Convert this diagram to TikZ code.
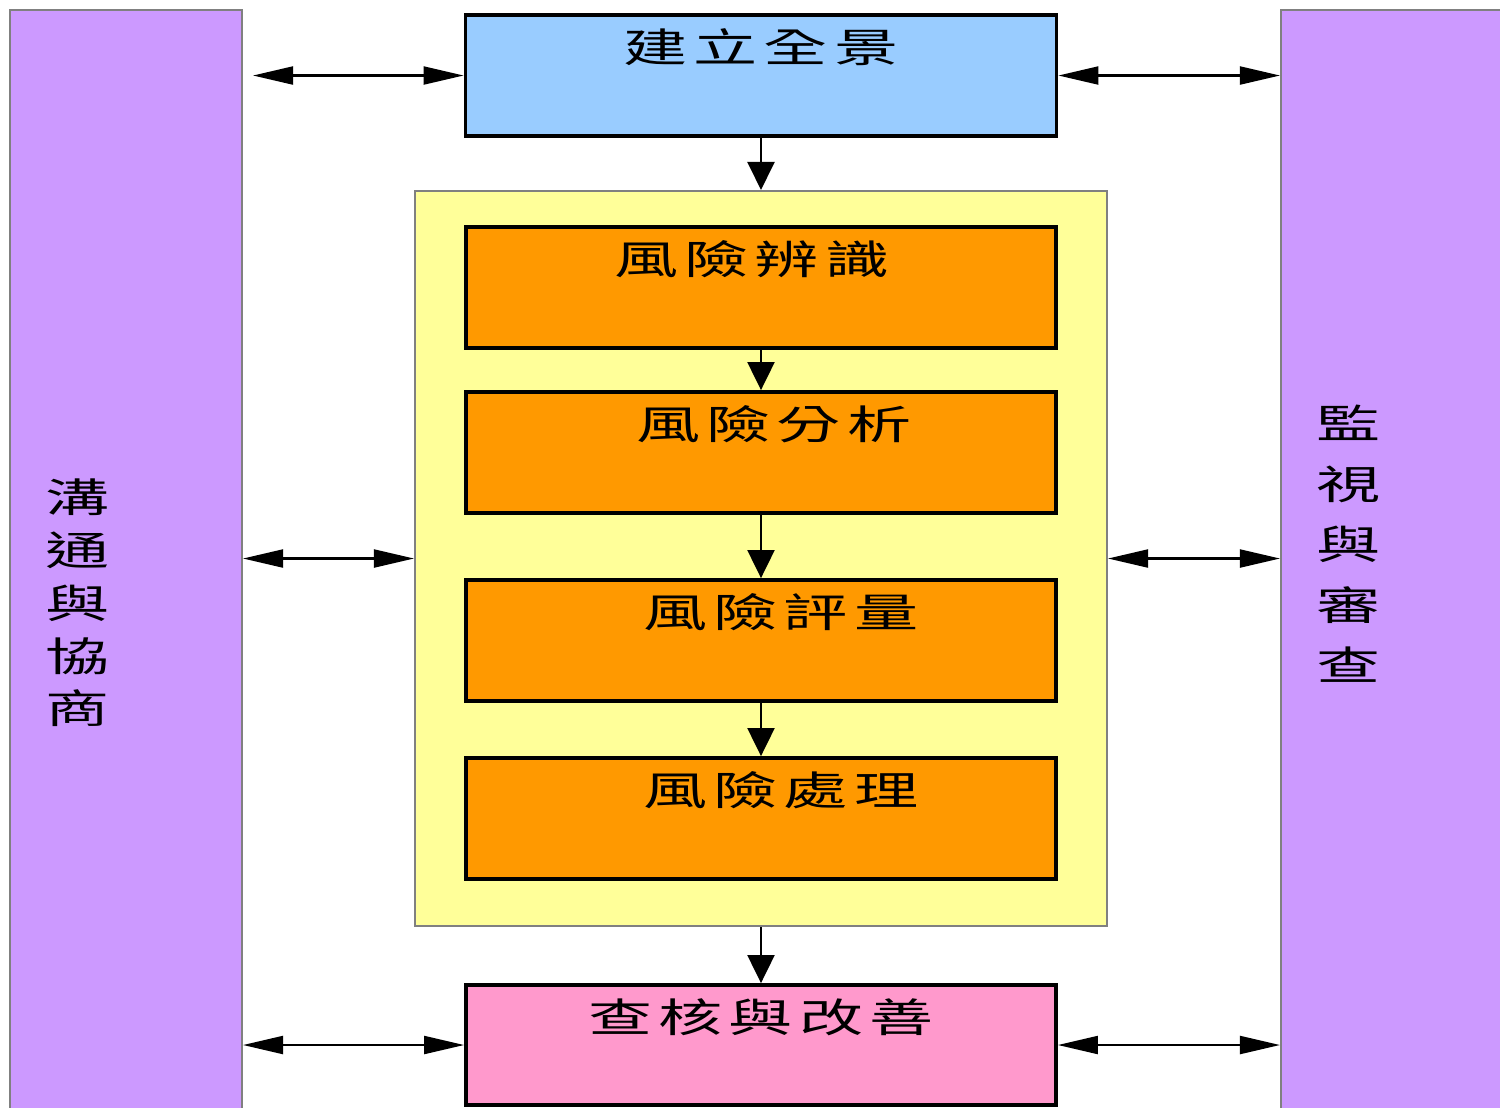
\documentclass[tikz,border=0pt]{standalone}
\usepackage{fontspec}
\usetikzlibrary{arrows.meta,positioning}
\newfontfamily\cjk[FakeStretch=1.6,LetterSpace=15]{Noto Sans CJK TC}
\definecolor{purp}{HTML}{CC99FF}
\definecolor{skyb}{HTML}{99CCFF}
\definecolor{lyel}{HTML}{FFFF99}
\definecolor{oran}{HTML}{FF9900}
\definecolor{pink}{HTML}{FF99CC}
\tikzset{
	txt/.style={draw=none,fill=none,minimum width=0pt,minimum height=0pt,inner sep=0pt,anchor=center,font=\cjk\fontsize{11.4}{14}\selectfont},
	side/.style={draw=gray,line width=0.6pt,fill=purp,minimum width=2.32cm,minimum height=11.2cm},
	stepbox/.style={fill=oran,minimum width=5.9cm}
}
\begin{document}
\begin{tikzpicture}
	\useasboundingbox (0,0) rectangle (15,-11.07);

	\begin{scope}[every node/.style={rectangle,draw=black,line width=1.1pt,minimum width=5.91cm,minimum height=1.21cm,inner sep=0pt},
		every label/.style={txt,yshift=0.28cm}]
		\node[side,label={[yshift=-0.61cm,xshift=-0.48cm,align=center,font=\cjk\fontsize{11.4}{15}\selectfont]center:{溝\\通\\與\\協\\商}}] (comm) at (1.26,-5.70) {};
		\node[side,minimum width=2.39cm,label={[yshift=-0.02cm,xshift=-0.52cm,align=center,font=\cjk\fontsize{11.4}{17.2}\selectfont]center:{監\\視\\與\\審\\查}}] (moni) at (14.005,-5.70) {};

		\node[fill=skyb,label={center:建立全景}] (ctx) at (7.61,-0.755) {};
		\node[draw=gray,line width=0.6pt,fill=lyel,minimum width=6.92cm,minimum height=7.35cm] (risk) at (7.61,-5.585) {};
		\node[stepbox,label={[xshift=-0.09cm]center:風險辨識}] (ident) at (7.61,-2.875) {};
		\node[stepbox,label={[xshift=0.13cm]center:風險分析}] (anal) at (7.61,-4.525) {};
		\node[stepbox,label={[xshift=0.2cm]center:風險評量}] (eval) at (7.61,-6.405) {};
		\node[stepbox,label={[xshift=0.2cm]center:風險處理}] (treat) at (7.61,-8.185) {};
		\node[stepbox,fill=pink,minimum height=1.2cm,label={center:查核與改善}] (audit) at (7.61,-10.45) {};
	\end{scope}

	\begin{scope}[>={Triangle[black,length=0.28cm,width=0.27cm]},line width=0.6pt]
		\path[->] (ctx.south) edge (risk.north);
		\path[->] (ident.south) edge (anal.north);
		\path[->] (anal.south) edge (eval.north);
		\path[->] (eval.south) edge (treat.north);
		\path[->] (risk.south) edge (audit.north);
	\end{scope}

	\begin{scope}[>={Triangle[black,length=0.4cm,width=0.18cm]},line width=0.6pt]
		\path[<->] (ctx.west -| comm.east) edge[shorten <=0.1cm] (ctx.west);
		\path[<->] (ctx.east) edge (ctx.east -| moni.west);
		\path[<->] (risk.west -| comm.east) edge (risk.west);
		\path[<->] (risk.east) edge (risk.east -| moni.west);
		\path[<->] (audit.west -| comm.east) edge (audit.west);
		\path[<->] (audit.east) edge (audit.east -| moni.west);
	\end{scope}
\end{tikzpicture}
\end{document}
